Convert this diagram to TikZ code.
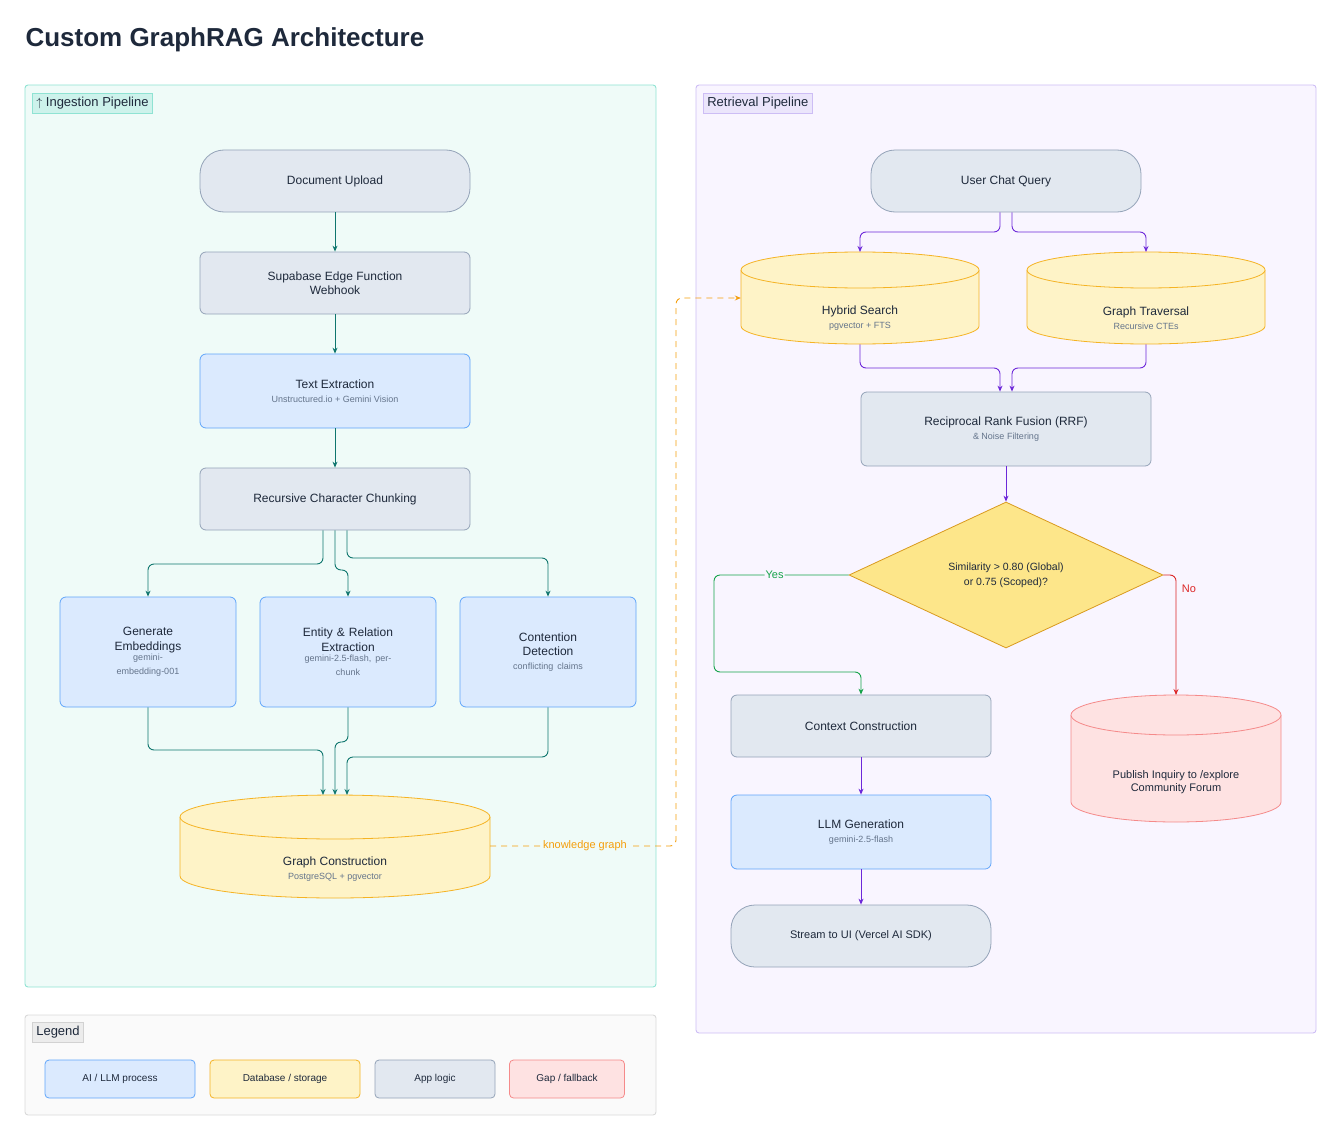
\documentclass[tikz,border=0pt]{standalone}
\usepackage{fontspec}
\setmainfont{Liberation Sans}
\usetikzlibrary{shapes.geometric,arrows.meta}
\definecolor{tealfill}{HTML}{EFFBF8}
\definecolor{tealline}{HTML}{8FE3D3}
\definecolor{purpfill}{HTML}{F9F5FF}
\definecolor{purpline}{HTML}{CDBDF5}
\definecolor{grayfill}{HTML}{E2E8F0}
\definecolor{grayline}{HTML}{94A3B8}
\definecolor{bluefill}{HTML}{DBEAFE}
\definecolor{blueline}{HTML}{60A5FA}
\definecolor{yelfill}{HTML}{FEF3C7}
\definecolor{yelline}{HTML}{F5B324}
\definecolor{redfill}{HTML}{FEE2E2}
\definecolor{redline}{HTML}{F58A8A}
\definecolor{diafill}{HTML}{FDE68A}
\definecolor{dialine}{HTML}{D99A1E}
\definecolor{tealarrow}{HTML}{0F766E}
\definecolor{purparrow}{HTML}{6D28D9}
\definecolor{yesgreen}{HTML}{16A34A}
\definecolor{nored}{HTML}{DC2626}
\definecolor{kgorange}{HTML}{F59E0B}
\definecolor{subgray}{HTML}{64748B}
\definecolor{titlecol}{HTML}{1E293B}
\newcommand\subtxt{\fontsize{9}{11}\selectfont\color{subgray}}
\tikzset{
  base/.style={rectangle,rounded corners=6,draw,line width=0.8pt,align=center,
    font=\fontsize{12}{14.5}\selectfont,text=titlecol},
  appbox/.style={base,fill=grayfill,draw=grayline,minimum width=270,minimum height=62},
  aibox/.style={base,fill=bluefill,draw=blueline,minimum width=270,minimum height=74},
  smallai/.style={base,fill=bluefill,draw=blueline,minimum width=176,minimum height=110,text width=150},
  pill/.style={appbox,rounded corners=24},
  tflow/.style={-{Stealth[length=6pt,width=5pt]},tealarrow,line width=0.9pt,rounded corners=6},
  pflow/.style={-{Stealth[length=6pt,width=5pt]},purparrow,line width=0.9pt,rounded corners=6},
  panel/.style={draw,line width=0.9pt,rounded corners=3},
  tag/.style={draw,line width=0.6pt,font=\fontsize{13}{15}\selectfont,text=titlecol,inner sep=4pt,anchor=north west},
  legitem/.style={base,font=\fontsize{10}{12}\selectfont,minimum height=38,rounded corners=4}
}
% cylinder: name, cx, top, w, h, ry, fill, draw
\newcommand\dbshape[8]{%
  \pgfmathsetmacro\xl{#2-#4/2}\pgfmathsetmacro\xr{#2+#4/2}
  \pgfmathsetmacro\yt{#3+#6}\pgfmathsetmacro\yb{#3+#5-#6}
  \filldraw[fill=#7,draw=#8,line width=0.8pt]
    (\xl,\yt) -- (\xl,\yb) arc[start angle=180,end angle=0,x radius=#4/2,y radius=#6] -- (\xr,\yt);
  \filldraw[fill=#7,draw=#8,line width=0.8pt] (#2,\yt) ellipse[x radius=#4/2,y radius=#6];
  \node[minimum width=#4,minimum height=#5,inner sep=0,anchor=north] (#1) at (#2,#3) {};
}
\begin{document}
\begin{tikzpicture}[x=1pt,y=-1pt]
  \useasboundingbox (0,0) rectangle (1341,1137);
  \node[anchor=west,font=\fontsize{26}{30}\selectfont\bfseries,text=titlecol] (title) at (22,40) {Custom GraphRAG Architecture};

  % panels
  \draw[panel,fill=tealfill,draw=tealline] (25,85) rectangle (656,987);
  \draw[panel,fill=purpfill,draw=purpline] (696,85) rectangle (1316,1033);
  \draw[panel,fill=gray!4,draw=gray!30] (25,1015) rectangle (656,1115);
  \node[tag,fill=tealline!45,draw=tealline] (ingtag) at (32,93) {$\uparrow$\ Ingestion Pipeline};
  \node[tag,fill=purpline!40,draw=purpline] (rettag) at (703,93) {Retrieval Pipeline};
  \node[tag,fill=gray!15,draw=gray!35] (legtag) at (32,1022) {Legend};

  % ingestion
  \node[pill] (upload) at (335,181) {Document Upload};
  \node[appbox] (webhook) at (335,283) {Supabase Edge Function\\Webhook};
  \node[aibox] (extract) at (335,391) {Text Extraction\\[-1pt]{\subtxt Unstructured.io + Gemini Vision}};
  \node[appbox] (chunk) at (335,499) {Recursive Character Chunking};
  \node[smallai] (embed) at (148,652) {Generate\\Embeddings\\[-1pt]{\subtxt gemini-\\embedding-001}};
  \node[smallai] (entity) at (348,652) {Entity \& Relation\\Extraction\\[-1pt]{\subtxt gemini-2.5-flash, per-\\chunk}};
  \node[smallai] (contention) at (548,652) {Contention\\Detection\\[-1pt]{\subtxt conflicting claims}};
  \dbshape{graph}{335}{795}{310}{103}{22}{yelfill}{yelline}
  \node[base,draw=none,fill=none] (graphtxt) at (335,869) {Graph Construction\\[-1pt]{\subtxt PostgreSQL + pgvector}};

  \draw[tflow] (upload) -- (webhook);
  \draw[tflow] (webhook) -- (extract);
  \draw[tflow] (extract) -- (chunk);
  \draw[tflow] (chunk.south -| 323,0) -- (323,564) -- (148,564) -- (embed.north);
  \draw[tflow] (chunk.south) -- (335,570) -- (348,570) -- (entity.north);
  \draw[tflow] (chunk.south -| 347,0) -- (347,558) -- (548,558) -- (contention.north);
  \draw[tflow] (embed.south) -- (148,750) -- (323,750) -- (graph.north -| 323,0);
  \draw[tflow] (entity.south) -- (348,742) -- (335,742) -- (graph.north);
  \draw[tflow] (contention.south) -- (548,757) -- (347,757) -- (graph.north -| 347,0);

  % retrieval
  \node[pill] (query) at (1006,181) {User Chat Query};
  \dbshape{hybrid}{860}{252}{238}{92}{18}{yelfill}{yelline}
  \node[base,draw=none,fill=none] (hybridtxt) at (860,318) {Hybrid Search\\[-1pt]{\subtxt pgvector + FTS}};
  \dbshape{traverse}{1146}{252}{238}{92}{18}{yelfill}{yelline}
  \node[base,draw=none,fill=none] (traversetxt) at (1146,318) {Graph Traversal\\[-1pt]{\subtxt Recursive CTEs}};
  \node[appbox,minimum width=290,minimum height=74] (rrf) at (1006,429) {Reciprocal Rank Fusion (RRF)\\[-1pt]{\subtxt \& Noise Filtering}};
  \node[diamond,draw=dialine,fill=diafill,line width=0.8pt,aspect=2.15,minimum width=314,minimum height=146,inner sep=0,
    align=center,font=\fontsize{10.5}{15}\selectfont,text=titlecol] (sim) at (1006,575) {Similarity > 0.80 (Global)\\or 0.75 (Scoped)?};
  \node[appbox,minimum width=260] (context) at (861,726) {Context Construction};
  \node[aibox,minimum width=260] (llm) at (861,832) {LLM Generation\\[-1pt]{\subtxt gemini-2.5-flash}};
  \node[pill,minimum width=260] (stream) at (861,936) {\fontsize{11}{13}\selectfont Stream to UI (Vercel AI SDK)};
  \dbshape{publish}{1176}{695}{210}{127}{20}{redfill}{redline}
  \node[base,draw=none,fill=none,font=\fontsize{11}{13.5}\selectfont] (publishtxt) at (1176,782) {Publish Inquiry to /explore\\Community Forum};

  \draw[pflow] (query.south -| 1000,0) -- (1000,232) -- (860,232) -- (hybrid.north);
  \draw[pflow] (query.south -| 1012,0) -- (1012,232) -- (1146,232) -- (traverse.north);
  \draw[pflow] (hybrid.south) -- (860,368) -- (1000,368) -- (rrf.north -| 1000,0);
  \draw[pflow] (traverse.south) -- (1146,368) -- (1012,368) -- (rrf.north -| 1012,0);
  \draw[pflow] (rrf) -- (sim);
  \draw[-{Stealth[length=6pt,width=5pt]},yesgreen,line width=0.9pt,rounded corners=6]
    (sim.west) -- node[pos=0.55,fill=purpfill,inner sep=1pt,font=\fontsize{11}{13}\selectfont] (yes) {Yes} (714,575) -- (714,672) -- (861,672) -- (context.north);
  \draw[-{Stealth[length=6pt,width=5pt]},nored,line width=0.9pt,rounded corners=6]
    (sim.east) -- (1176,575) -- (publish.north);
  \node[text=nored,font=\fontsize{11}{13}\selectfont] (no) at (1189,589) {No};
  \draw[pflow] (context) -- (llm);
  \draw[pflow] (llm) -- (stream);

  % knowledge graph link
  \draw[-{Stealth[length=6pt,width=5pt]},kgorange,line width=0.9pt,dash pattern=on 6pt off 5pt,rounded corners=6]
    (graph.east |- 0,846) -- node[pos=0.51,fill=tealfill,inner sep=2pt,font=\fontsize{11}{13}\selectfont] (kg) {knowledge graph}
    (676,846) -- (676,298) -- (hybrid.west |- 0,298);

  % legend
  \node[legitem,fill=bluefill,draw=blueline,minimum width=150] (lai) at (120,1079) {AI / LLM process};
  \node[legitem,fill=yelfill,draw=yelline,minimum width=150] (ldb) at (285,1079) {Database / storage};
  \node[legitem,fill=grayfill,draw=grayline,minimum width=120] (lapp) at (435,1079) {App logic};
  \node[legitem,fill=redfill,draw=redline,minimum width=115] (lgap) at (567,1079) {Gap / fallback};
\end{tikzpicture}
\end{document}
